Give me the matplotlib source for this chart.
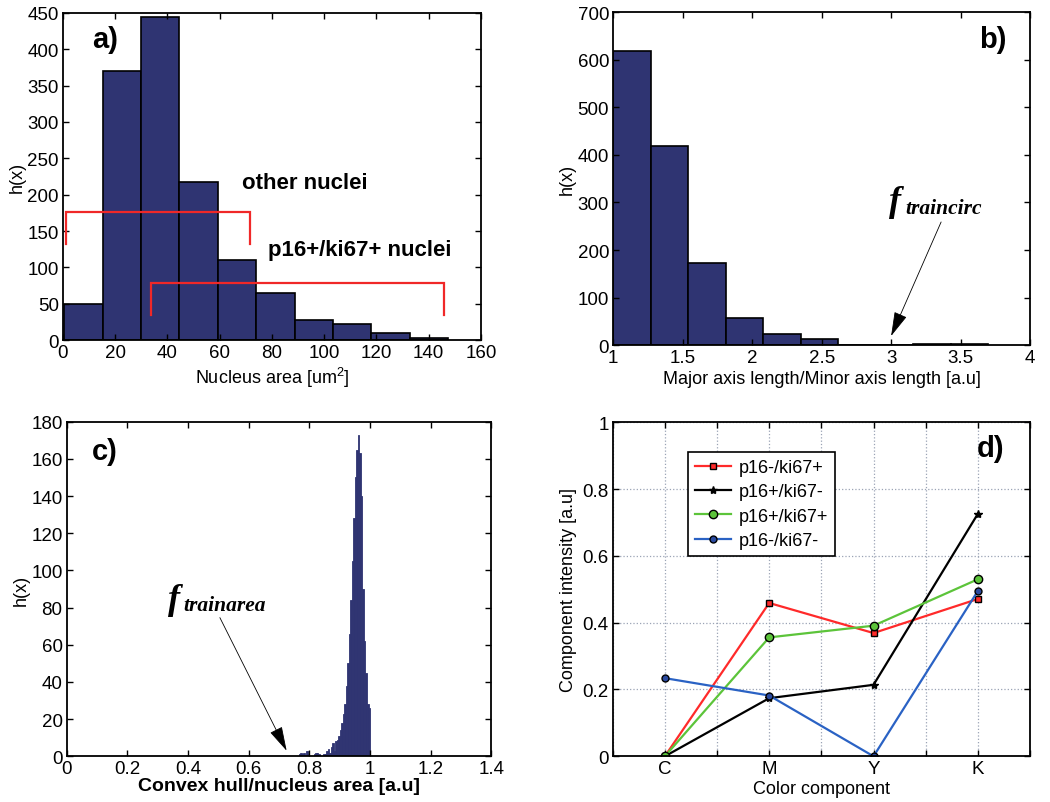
import numpy as np
import matplotlib
matplotlib.use("Agg")
import matplotlib.pyplot as plt
from matplotlib.ticker import FormatStrFormatter, MultipleLocator

plt.rcParams['font.family'] = ['Liberation Sans', 'DejaVu Sans']
plt.rcParams['mathtext.fontset'] = 'custom'
plt.rcParams['mathtext.rm'] = 'Liberation Sans'
plt.rcParams['mathtext.it'] = 'Liberation Sans:italic'
plt.rcParams['mathtext.bf'] = 'Liberation Sans:bold'

# ---------------- data ----------------
# a) nucleus area histogram
area_edges = [0.5, 15.2, 29.9, 44.6, 59.3, 74.0, 88.7, 103.4, 118.1, 132.8, 147.5]
area_counts = [49, 370, 444, 217, 110, 65, 28, 22, 10, 3]
# red brackets (x-range, y-level, lower end)
other_range = [1, 71.5]
other_level, other_low = 176, 132
p16_range = [33.6, 146]
p16_level, p16_low = 78, 35

# b) axis ratio histogram
ratio_edges = [1.0, 1.27, 1.54, 1.81, 2.08, 2.35, 2.62, 2.89, 3.16, 3.43, 3.70]
ratio_counts = [619, 419, 173, 58, 23, 12, 0, 1, 2, 3]

# c) convex hull / nucleus area histogram
hull_edges = np.round(np.arange(0.760, 1.0001, 0.005), 3)
hull_counts = [0, 1, 2, 1, 2, 0, 3, 1, 0, 0, 0, 1, 2, 2, 1, 0, 0, 1, 1, 3,
               4, 2, 5, 7, 3, 8, 9, 11, 14, 18, 23, 28, 38, 50, 66, 84, 105,
               128, 150, 165, 173, 163, 140, 90, 62, 45, 28, 26]

# d) colour components
components = ['C', 'M', 'Y', 'K']
p16neg_ki67pos = [0.0, 0.459, 0.369, 0.471]
p16pos_ki67neg = [0.0, 0.174, 0.214, 0.726]
p16pos_ki67pos = [0.0, 0.356, 0.391, 0.530]
p16neg_ki67neg = [0.234, 0.182, 0.0, 0.495]

BAR = '#2f3472'
FS = 13.5
LFS = 13

fig = plt.figure(figsize=(10.5, 8.03), dpi=100)

def style(ax):
    for s in ax.spines.values():
        s.set_linewidth(1.3)
        s.set_color('black')
    ax.tick_params(direction='in', top=True, right=True, length=4, width=1.0,
                   labelsize=FS, pad=3)

def hist_bars(ax, edges, counts, ec='black', lw=1.2):
    edges = np.asarray(edges, float)
    ax.bar(edges[:-1], counts, width=np.diff(edges), align='edge',
           color=BAR, edgecolor=ec, linewidth=lw)

def f_label(ax, x, y, sub, dx):
    ax.text(x, y, 'f', fontsize=26, fontweight='bold', fontstyle='italic',
            family='Liberation Serif', va='baseline')
    ax.annotate(sub, xy=(x, y), xytext=(dx, -2), textcoords='offset points',
                fontsize=15.5, fontweight='bold', fontstyle='italic',
                family='Liberation Serif', va='baseline')

ARROW = dict(arrowstyle='-|>,head_length=1.1,head_width=0.3',
             color='black', lw=0.6, mutation_scale=14, shrinkA=0, shrinkB=0)

# ---- a)
axa = fig.add_axes([0.060, 0.5753, 0.398, 0.4073])
hist_bars(axa, area_edges, area_counts)
axa.set_xlim(0, 160)
axa.set_ylim(0, 450)
axa.xaxis.set_major_locator(MultipleLocator(20))
axa.yaxis.set_major_locator(MultipleLocator(50))
style(axa)
axa.set_xlabel('Nucleus area [um$^{2}$]', fontsize=LFS, labelpad=3)
axa.set_ylabel('h(x)', fontsize=LFS, labelpad=1)
for rng, lev, low in [(other_range, other_level, other_low),
                      (p16_range, p16_level, p16_low)]:
    axa.plot([rng[0], rng[0], rng[1], rng[1]], [low, lev, lev, low],
             color='#f02828', lw=1.6, solid_joinstyle='miter')
axa.text(68.5, 217, 'other nuclei', fontsize=16, fontweight='bold', va='center')
axa.text(78.6, 125, 'p16+/ki67+ nuclei', fontsize=16, fontweight='bold', va='center')
axa.text(11, 414, 'a)', fontsize=21, fontweight='bold', va='center')

# ---- b)
axb = fig.add_axes([0.584, 0.569, 0.397, 0.4144])
hist_bars(axb, ratio_edges, ratio_counts)
axb.set_xlim(1, 4)
axb.set_ylim(0, 700)
axb.xaxis.set_major_locator(MultipleLocator(0.5))
axb.xaxis.set_major_formatter(FormatStrFormatter('%g'))
axb.yaxis.set_major_locator(MultipleLocator(100))
style(axb)
axb.set_xlabel('Major axis length/Minor axis length [a.u]', fontsize=LFS, labelpad=3)
axb.set_ylabel('h(x)', fontsize=LFS, labelpad=1)
axb.annotate('', xy=(3.0, 19), xytext=(3.36, 259), arrowprops=ARROW)
f_label(axb, 2.985, 284, 'traincirc', 12)
axb.text(3.63, 644, 'b)', fontsize=21, fontweight='bold', va='center')

# ---- c)
axc = fig.add_axes([0.0635, 0.0569, 0.4045, 0.4167])
hist_bars(axc, hull_edges, hull_counts, ec=BAR, lw=0.6)
axc.set_xlim(0, 1.4)
axc.set_ylim(0, 180)
axc.xaxis.set_major_locator(MultipleLocator(0.2))
axc.xaxis.set_major_formatter(FormatStrFormatter('%g'))
axc.yaxis.set_major_locator(MultipleLocator(20))
style(axc)
axc.set_xlabel('Convex hull/nucleus area [a.u]', fontsize=LFS + 1, fontweight='bold',
               labelpad=0)
axc.set_ylabel('h(x)', fontsize=LFS, labelpad=1)
axc.annotate('', xy=(0.725, 3), xytext=(0.505, 74.6), arrowprops=ARROW)
f_label(axc, 0.335, 80, 'trainarea', 11)
axc.text(0.082, 164.4, 'c)', fontsize=21, fontweight='bold', va='center')

# ---- d)
axd = fig.add_axes([0.5835, 0.0569, 0.3975, 0.416])
x = np.arange(1, len(components) + 1)
axd.plot(x, p16neg_ki67pos, color='#ff2a2a', lw=1.6, marker='s', ms=5,
         mfc='#ff2a2a', mec='black', mew=1.0, label='p16-/ki67+')
axd.plot(x, p16pos_ki67neg, color='black', lw=1.6, marker='*', ms=6,
         mfc='black', mec='black', label='p16+/ki67-')
axd.plot(x, p16pos_ki67pos, color='#5cc43a', lw=1.6, marker='o', ms=6,
         mfc='#5cc43a', mec='black', mew=1.0, label='p16+/ki67+')
axd.plot(x, p16neg_ki67neg, color='#2a62c4', lw=1.6, marker='o', ms=5,
         mfc='#2a4aa0', mec='black', mew=1.0, label='p16-/ki67-')
axd.set_xlim(0.5, 4.5)
axd.set_ylim(0, 1)
axd.set_xticks(x)
axd.set_xticklabels(components)
axd.set_xticks([0.5, 1.5, 2.5, 3.5, 4.5], minor=True)
axd.yaxis.set_major_locator(MultipleLocator(0.2))
axd.yaxis.set_major_formatter(FormatStrFormatter('%g'))
style(axd)
axd.tick_params(which='minor', direction='in', top=True, length=4, width=1.0)
axd.grid(True, which='both', color='#9aa3b5', linestyle=':', linewidth=0.9)
axd.set_axisbelow(True)
axd.set_xlabel('Color component', fontsize=LFS, labelpad=2)
axd.set_ylabel('Component intensity [a.u]', fontsize=LFS, labelpad=4)
leg = axd.legend(loc='upper left', bbox_to_anchor=(0.18, 0.911), borderaxespad=0,
                 fontsize=13, fancybox=False, framealpha=1, edgecolor='black',
                 handlelength=2.0, labelspacing=0.4, borderpad=0.4,
                 handletextpad=0.4)
leg.get_frame().set_linewidth(1.2)
axd.text(3.99, 0.923, 'd)', fontsize=21, fontweight='bold', va='center')

fig.savefig('out.png', dpi=100)
